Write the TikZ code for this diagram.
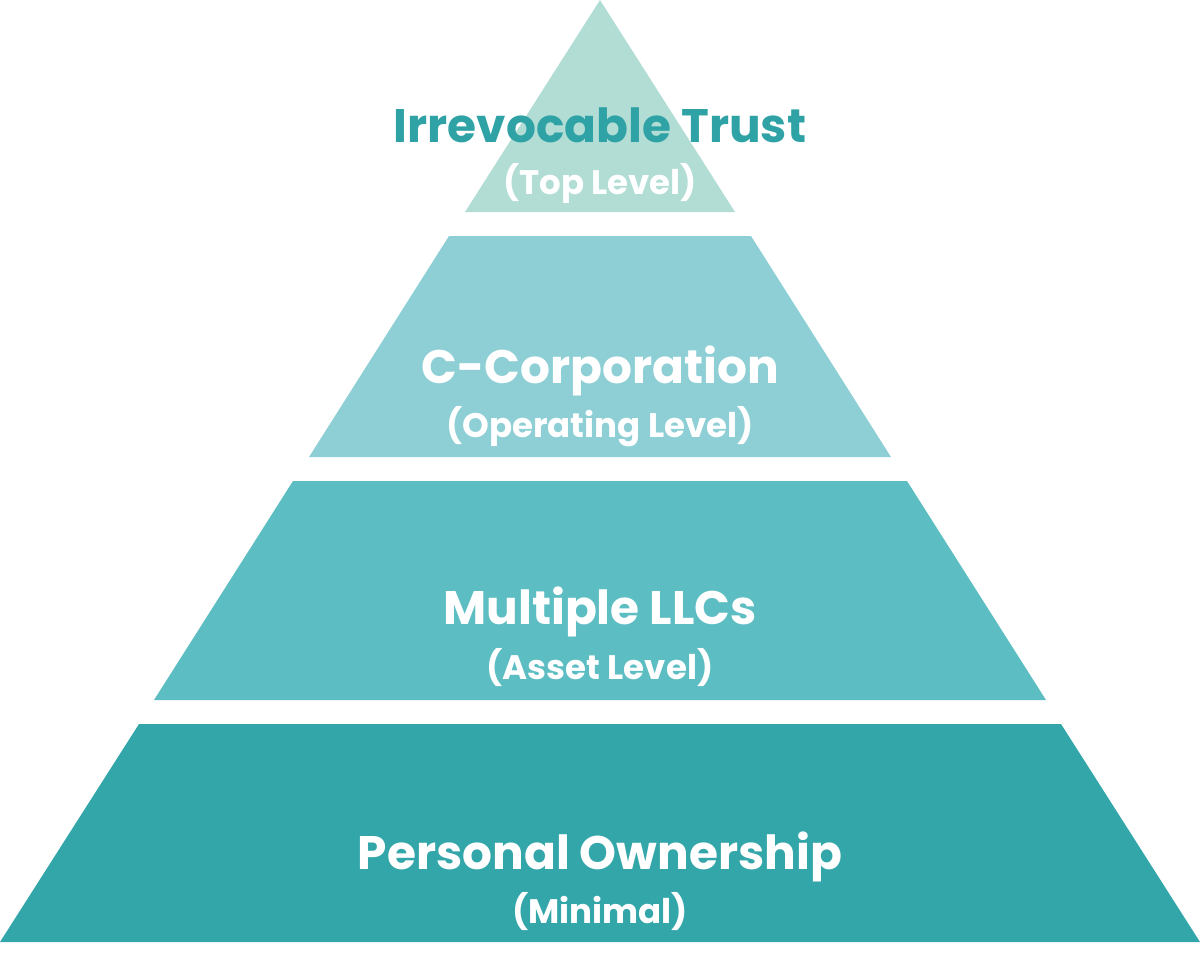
\documentclass[tikz,border=0pt]{standalone}
\usepackage{fontspec}
\setmainfont{Poppins}[BoldFont={* Bold}]
\usepackage{tikz}
\definecolor{trustcol}{HTML}{B2DDD5}
\definecolor{corpcol}{HTML}{8ECFD6}
\definecolor{llccol}{HTML}{5CBDC2}
\definecolor{personcol}{HTML}{33A6AA}
\definecolor{trusttext}{HTML}{2FA2A6}
\tikzstyle{tier} = [draw=none]
\tikzstyle{title} = [font=\bfseries\fontsize{23.5}{26}\selectfont, text=white, inner sep=0pt]
\tikzstyle{subtitle} = [font=\bfseries\fontsize{17}{20}\selectfont, text=white, inner sep=0pt]

\begin{document}
\begin{tikzpicture}[x=0.5pt, y=-0.5pt]
        % bounding box
        \useasboundingbox (0,0) rectangle (1200,954);

        % tiers
        \fill [tier, trustcol] (600,0) -- (735,212) -- (465,212) -- cycle;
        \fill [tier, corpcol] (449,236) -- (751,236) -- (891,457) -- (309,457) -- cycle;
        \fill [tier, llccol] (293,481) -- (907,481) -- (1046,700) -- (154,700) -- cycle;
        \fill [tier, personcol] (139,724) -- (1061,724) -- (1200,942) -- (0,942) -- cycle;

        % labels
        \node [title, text=trusttext] (trust) at (600,125) {Irrevocable Trust};
        \node [subtitle] (trustsub) at (600,183) {(Top Level)};
        \node [title] (corp) at (600,371) {C-Corporation};
        \node [subtitle] (corpsub) at (600,427) {(Operating Level)};
        \node [title] (llc) at (600,612) {Multiple LLCs};
        \node [subtitle] (llcsub) at (600,668) {(Asset Level)};
        \node [title] (person) at (600,857) {Personal Ownership};
        \node [subtitle] (personsub) at (600,912) {(Minimal)};
    \end{tikzpicture}
\end{document}
